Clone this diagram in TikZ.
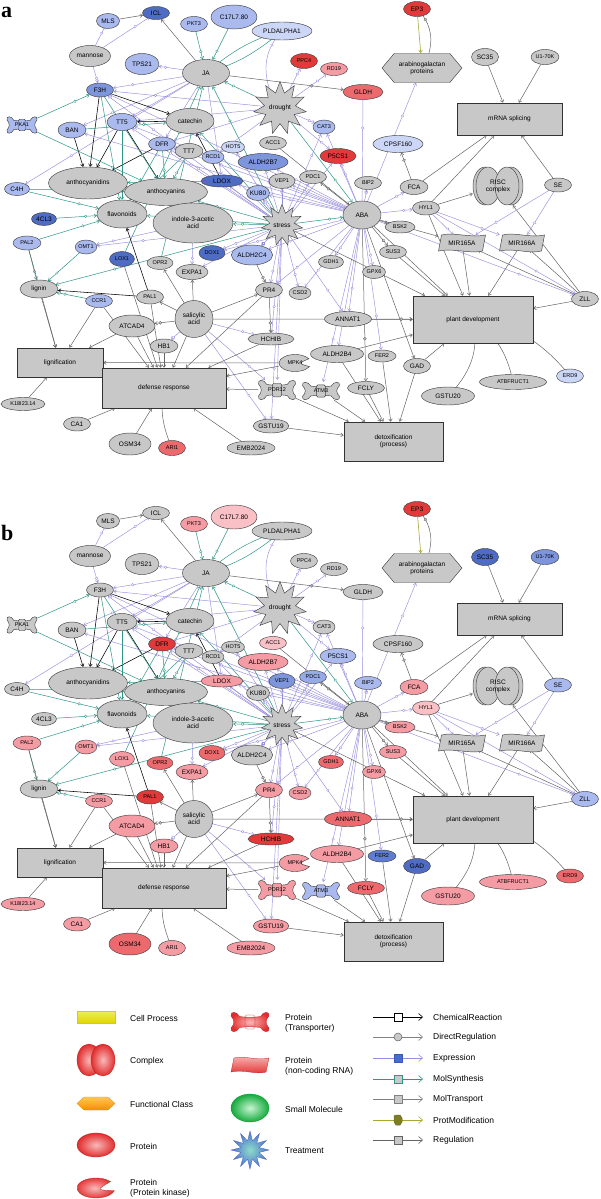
\documentclass[tikz,border=0pt]{standalone}
\usepackage{fontspec}
\setmainfont{Liberation Sans}
\newfontfamily\lblfont{Liberation Serif}
\usetikzlibrary{shapes.geometric,shapes.symbols,arrows.meta,decorations.markings,calc}
\pgfdeclarelayer{paper}
\pgfdeclarelayer{bg}
\pgfsetlayers{paper,bg,main}
\definecolor{gry}{RGB}{200,200,200}
\definecolor{vlb}{RGB}{204,214,246}
\definecolor{lb}{RGB}{170,186,238}
\definecolor{lmb}{RGB}{150,170,232}
\definecolor{mb}{RGB}{125,149,220}
\definecolor{mdb}{RGB}{95,125,210}
\definecolor{db}{RGB}{79,108,196}
\definecolor{rd}{RGB}{226,58,58}
\definecolor{rp}{RGB}{236,106,110}
\definecolor{pk}{RGB}{245,155,163}
\definecolor{lpk}{RGB}{249,192,198}
\definecolor{cex}{RGB}{152,142,222}
\definecolor{cms}{RGB}{45,150,135}
\definecolor{crg}{RGB}{100,100,100}
\definecolor{cpm}{RGB}{168,168,50}
\definecolor{legred}{RGB}{225,45,45}
\definecolor{legpink}{RGB}{250,185,185}
\tikzset{
  nE/.style args={#1/#2}{ellipse, draw=black!75, line width=0.45pt, minimum width=#1pt, minimum height=#2pt, inner sep=0pt, align=center},
  fs/.style={font=\fontsize{5.5}{6}\selectfont},
  fm/.style={font=\fontsize{6.5}{7}\selectfont},
  lg/.style={font=\fontsize{8.5}{10}\selectfont, anchor=west, align=left, inner sep=0pt},
  nBox/.style args={#1/#2}{rectangle, draw=black!80, fill=gry, line width=0.6pt, minimum width=#1pt, minimum height=#2pt, inner sep=0pt, align=center, font=\fontsize{6.5}{7.5}\selectfont},
  nStar/.style={star, star points=11, star point ratio=1.7, draw=black!75, inner sep=0pt, line width=0.45pt},
  mkr/.style={postaction={decorate, decoration={markings, mark=at position 0.72 with {\draw[draw=#1, fill=white, line width=0.35pt] (0,0) circle (1.3pt);}}}},
  mkg/.style={postaction={decorate, decoration={markings, mark=at position 0.72 with {\draw[draw=crg, fill=gry, line width=0.35pt] (0,0) circle (1.5pt);}}}},
  atip/.style={-{Straight Barb[length=2.5pt,width=3.6pt]}},
  ex/.style={draw=cex, line width=0.45pt, atip, mkr=cex},
  exb/.style={draw=cex, line width=0.45pt, -{Bar[width=4pt]}, mkr=cex},
  ms/.style={draw=cms, line width=0.5pt, atip, mkr=cms},
  rg/.style={draw=crg, line width=0.5pt, atip},
  rgb/.style={draw=crg, line width=0.5pt, -{Bar[width=4pt]}},
  dr/.style={draw=crg, line width=0.5pt, atip, mkg},
  ch/.style={draw=black, line width=0.55pt, atip},
  pm/.style={draw=cpm, line width=0.6pt, atip},
  lgline/.style={line width=0.6pt, -{Straight Barb[length=4pt,width=7pt]}},
}
\newcommand{\cl}[2]{\colorlet{k#1}{#2}}
% spool (transporter) outline, half sizes #1 #2, style #3
\newcommand{\spool}[3]{%
  \path[#3] ({-0.55*#1},{-0.55*#2}) .. controls ({-0.7*#1},{-1.1*#2}) and ({-1.05*#1},{-1.1*#2}) .. (-#1,{-0.6*#2})
   .. controls ({-0.8*#1},{-0.2*#2}) and ({-0.8*#1},{0.2*#2}) .. (-#1,{0.6*#2})
   .. controls ({-1.05*#1},{1.1*#2}) and ({-0.7*#1},{1.1*#2}) .. ({-0.55*#1},{0.55*#2})
   .. controls ({-0.2*#1},{0.45*#2}) and ({0.2*#1},{0.45*#2}) .. ({0.55*#1},{0.55*#2})
   .. controls ({0.7*#1},{1.1*#2}) and ({1.05*#1},{1.1*#2}) .. (#1,{0.6*#2})
   .. controls ({0.8*#1},{0.2*#2}) and ({0.8*#1},{-0.2*#2}) .. (#1,{-0.6*#2})
   .. controls ({1.05*#1},{-1.1*#2}) and ({0.7*#1},{-1.1*#2}) .. ({0.55*#1},{-0.55*#2})
   .. controls ({0.2*#1},{-0.45*#2}) and ({-0.2*#1},{-0.45*#2}) .. cycle;
}
\newcommand{\transp}[6]{%
  \begin{scope}[shift={(#2,#3)}]
    \spool{#4}{#5}{fill=k#1, draw=black!75, line width=0.45pt}
    \draw[black!75, line width=0.4pt, rounded corners=1.5pt, fill=k#1] ({-0.25*#4},{-0.68*#5}) rectangle ({0.25*#4},{0.68*#5});
  \end{scope}
  \node[fs, inner sep=0pt, minimum width=2*#4pt, minimum height=2*#5pt] (#1) at (#2,#3) {#6};
}
\newcommand{\kinase}[6]{%
  \begin{scope}[shift={(#2,#3)}]
    \filldraw[fill=k#1, draw=black!75, line width=0.45pt] (25:#4 and #5) arc[start angle=25, end angle=330, x radius=#4, y radius=#5] .. controls ({0.2*#4},{0.05*#5}) .. cycle;
  \end{scope}
  \node[fs, inner sep=0pt, minimum width=2*#4pt, minimum height=2*#5pt] (#1) at (#2,#3) {#6};
}
\newcommand{\ncrna}[6]{%
  \begin{scope}[shift={(#2,#3)}]
    \filldraw[fill=k#1, draw=black!75, line width=0.45pt] ({-#4+3},-#5) .. controls ({-0.3*#4},{-1.4*#5}) and ({0.3*#4},{-0.6*#5}) .. (#4,-#5) -- ({#4-3},#5) .. controls ({0.3*#4},{1.4*#5}) and ({-0.3*#4},{0.6*#5}) .. (-#4,#5) -- cycle;
  \end{scope}
  \node[fm, inner sep=0pt, minimum width=2*#4pt, minimum height=2*#5pt] (#1) at (#2,#3) {#6};
}
\newcommand{\allgrey}{%
\cl{MLS}{gry}\cl{ICL}{gry}\cl{PKT3}{gry}\cl{C17}{gry}\cl{PLD}{gry}\cl{mannose}{gry}\cl{TPS21}{gry}\cl{JA}{gry}\cl{F3H}{gry}\cl{PKA1}{gry}\cl{BAN}{gry}\cl{TT5}{gry}\cl{catechin}{gry}\cl{drought}{gry}\cl{DFR}{gry}\cl{TT7}{gry}\cl{HOT5}{gry}\cl{ACC1}{gry}\cl{RCD1}{gry}\cl{ALDH2B7}{gry}\cl{ACN}{gry}\cl{ACY}{gry}\cl{LDOX}{gry}\cl{VEP1}{gry}\cl{KU80}{gry}\cl{C4H}{gry}\cl{CL4}{gry}\cl{flav}{gry}\cl{IAA}{gry}\cl{stress}{gry}\cl{PAL2}{gry}\cl{OMT1}{gry}\cl{LOX1}{gry}\cl{OPR2}{gry}\cl{DOX1}{gry}\cl{ALDH2C4}{gry}\cl{EXPA1}{gry}\cl{lignin}{gry}\cl{CCR1}{gry}\cl{PAL1}{gry}\cl{SA}{gry}\cl{PR4}{gry}\cl{ATCAD4}{gry}\cl{HB1}{gry}\cl{HCHIB}{gry}\cl{MPK4}{gry}\cl{PDR12}{gry}\cl{K18}{gry}\cl{CA1}{gry}\cl{OSM34}{gry}\cl{ARI1}{gry}\cl{EMB}{gry}\cl{GSTU19}{gry}\cl{ATM3}{gry}\cl{EP3}{gry}\cl{ARA}{gry}\cl{SC35}{gry}\cl{U170K}{gry}\cl{PPC4}{gry}\cl{RD19}{gry}\cl{GLDH}{gry}\cl{CAT3}{gry}\cl{CPSF}{gry}\cl{P5CS1}{gry}\cl{PDC1}{gry}\cl{BIP2}{gry}\cl{FCA}{gry}\cl{RISC}{gry}\cl{SE}{gry}\cl{HYL1}{gry}\cl{ABA}{gry}\cl{BSK2}{gry}\cl{MIR5}{gry}\cl{MIR6}{gry}\cl{SUS3}{gry}\cl{GDH1}{gry}\cl{GPX6}{gry}\cl{ZLL}{gry}\cl{CSD2}{gry}\cl{ANNAT1}{gry}\cl{ALDH2B4}{gry}\cl{FER2}{gry}\cl{GAD}{gry}\cl{ERD9}{gry}\cl{ATBF}{gry}\cl{FCLY}{gry}\cl{GSTU20}{gry}}
\newcommand{\drawnet}{%
% ---------------- nodes
\node[nE=23/15, fill=kMLS, fm] (MLS) at (108,21) {MLS};
\node[nE=27/13, fill=kICL, fm] (ICL) at (156,13) {ICL};
\node[nE=27/15, fill=kPKT3, fs] (PKT3) at (194,24) {PKT3};
\node[nE=46/24, fill=kC17, fm] (C17) at (234,17) {C17L7.80};
\node[nE=60/18, fill=kPLD, fm] (PLD) at (282,31) {PLDALPHA1};
\node[nE=41/21, fill=kmannose, fm] (mannose) at (90,56) {mannose};
\node[nE=34/21, fill=kTPS21, fm] (TPS21) at (142,64) {TPS21};
\node[nE=47/27, fill=kJA, fm] (JA) at (206,73) {JA};
\node[nE=27/14, fill=kF3H, fm] (F3H) at (100,90) {F3H};
\transp{PKA1}{22}{125}{15}{8.5}{PKA1}
\node[nE=28/16, fill=kBAN, fm] (BAN) at (72,130) {BAN};
\node[nE=30/17, fill=kTT5, fm] (TT5) at (122,122) {TT5};
\node[nE=48/25, fill=kcatechin, fm] (catechin) at (190,121) {catechin};
\node[nStar, fill=kdrought, minimum size=38pt, fm] (drought) at (280,108) {drought};
\node[nE=27/14, fill=kDFR, fm] (DFR) at (162,144) {DFR};
\node[nE=28/15, fill=kTT7, fm] (TT7) at (189,151) {TT7};
\node[nE=23/12, fill=kHOT5, fs] (HOT5) at (233,147) {HOT5};
\node[nE=27/13, fill=kACC1, fs] (ACC1) at (273,143) {ACC1};
\node[nE=22/13, fill=kRCD1, fs] (RCD1) at (213,157) {RCD1};
\node[nE=50/17, fill=kALDH2B7, fm] (ALDH2B7) at (263,162) {ALDH2B7};
\node[nE=79/32, fill=kACN, fm] (ACN) at (88,183) {anthocyanidins};
\node[nE=83/27, fill=kACY, fm] (ACY) at (166,192) {anthocyanins};
\node[nE=42/12, fill=kLDOX, fm] (LDOX) at (222,181) {LDOX};
\node[nE=26/15, fill=kVEP1, fs] (VEP1) at (282,181) {VEP1};
\node[nE=23/15, fill=kKU80, fm] (KU80) at (258,193) {KU80};
\node[nE=25/13, fill=kC4H, fm] (C4H) at (17,189) {C4H};
\node[nE=25/13, fill=kCL4, fm] (CL4) at (44,219) {4CL3};
\node[nE=50/28, fill=kflav, fm] (flav) at (122,214) {flavonoids};
\node[nE=80/40, fill=kIAA, fm] (IAA) at (193,223) {indole-3-acetic\\acid};
\node[nStar, fill=kstress, minimum size=35pt, fm] (stress) at (282,225) {stress};
\node[nE=28/14, fill=kPAL2, fs] (PAL2) at (27,243) {PAL2};
\node[nE=21/14, fill=kOMT1, fs] (OMT1) at (86,247) {OMT1};
\node[nE=25/15, fill=kLOX1, fs] (LOX1) at (122,259) {LOX1};
\node[nE=26/13, fill=kOPR2, fs] (OPR2) at (160,263) {OPR2};
\node[nE=26/15, fill=kDOX1, fs] (DOX1) at (212,253) {DOX1};
\node[nE=41/20, fill=kALDH2C4, fm] (ALDH2C4) at (252,255) {ALDH2C4};
\node[nE=32/15, fill=kEXPA1, fm] (EXPA1) at (192,272) {EXPA1};
\node[nE=38/18, fill=klignin, fm] (lignin) at (39,289) {lignin};
\node[nE=27/13, fill=kCCR1, fs] (CCR1) at (99,301) {CCR1};
\node[nE=27/14, fill=kPAL1, fs] (PAL1) at (150,297) {PAL1};
\node[nE=38/37, fill=kSA, fm] (SA) at (194,319) {salicylic\\acid};
\node[nE=27/15, fill=kPR4, fm] (PR4) at (269,290) {PR4};
\node[nE=46/22, fill=kATCAD4, fm] (ATCAD4) at (132,326) {ATCAD4};
\node[nE=28/14, fill=kHB1, fm] (HB1) at (164,346) {HB1};
\node[nE=46/12, fill=kHCHIB, fm] (HCHIB) at (271,339) {HCHIB};
\node[nBox=86/29] (LIGF) at (60,362.5) {lignification};
\node[nBox=124/40] (DR) at (164,388) {defense response};
\kinase{MPK4}{295}{363}{16}{8.5}{MPK4}
\transp{PDR12}{277}{390}{18.5}{10}{PDR12}
\node[nE=44/13, fill=kK18, fs] (K18) at (23,404) {K18I23.14};
\node[nE=27/14, fill=kCA1, fm] (CA1) at (77,424) {CA1};
\node[nE=42/22, fill=kOSM34, fm] (OSM34) at (130,444) {OSM34};
\node[nE=27/15, fill=kARI1, fs] (ARI1) at (172,448) {ARI1};
\node[nE=48/14, fill=kEMB, fm] (EMB) at (251,448) {EMB2024};
\node[nE=35/14, fill=kGSTU19, fm] (GSTU19) at (271,426) {GSTU19};
\transp{ATM3}{321}{391}{18.5}{9}{ATM3}
\node[nE=27/15, fill=kEP3, fm] (EP3) at (417,9) {EP3};
\node[signal, signal to=west and east, signal pointer angle=100, draw=black!75, fill=kARA, minimum width=80pt, minimum height=29pt, inner sep=0pt, fm, align=center, line width=0.45pt] (ARA) at (422,68) {arabinogalactan\\proteins};
\node[nE=27/17, fill=kSC35, fm] (SC35) at (485,57) {SC35};
\node[nE=28/15, fill=kU170K, fs] (U170K) at (545,57) {U1-70K};
\node[nE=27/15, fill=kPPC4, fs] (PPC4) at (304,61) {PPC4};
\node[nE=27/13, fill=kRD19, fs] (RD19) at (334,69) {RD19};
\node[nE=40/15, fill=kGLDH, fm] (GLDH) at (363,92) {GLDH};
\node[nBox=105/32] (MRNA) at (509.5,119) {mRNA splicing};
\node[nE=22/14, fill=kCAT3, fs] (CAT3) at (324,127) {CAT3};
\node[nE=50/17, fill=kCPSF, fm] (CPSF) at (398,144) {CPSF160};
\node[nE=36/15, fill=kP5CS1, fm] (P5CS1) at (338,156) {P5CS1};
\node[nE=27/13, fill=kPDC1, fs] (PDC1) at (313,177) {PDC1};
\node[nE=27/13, fill=kBIP2, fs] (BIP2) at (368,183) {BIP2};
\node[nE=28/15, fill=kFCA, fm] (FCA) at (414,187) {FCA};
\begin{scope}[shift={(498,186)}]
  \filldraw[fill=kRISC, draw=black!75, line width=0.45pt] (-13,0) ellipse (12 and 19);
  \filldraw[fill=kRISC, draw=black!75, line width=0.45pt] (-10,0) ellipse (12 and 19);
  \filldraw[fill=kRISC, draw=black!75, line width=0.45pt] (13,0) ellipse (12 and 19);
  \filldraw[fill=kRISC, draw=black!75, line width=0.45pt] (9,0) ellipse (12 and 19);
\end{scope}
\node[fm, align=center, inner sep=0pt, minimum width=50pt, minimum height=38pt] (RISC) at (498,186) {RISC\\complex};
\node[nE=27/14, fill=kSE, fm] (SE) at (558,185) {SE};
\node[nE=27/14, fill=kHYL1, fs] (HYL1) at (426,208) {HYL1};
\node[nE=38/28, fill=kABA, fm] (ABA) at (362,215) {ABA};
\node[nE=30/12, fill=kBSK2, fs] (BSK2) at (400,227) {BSK2};
\ncrna{MIR5}{462}{243}{23.5}{8}{MIR165A}
\ncrna{MIR6}{522}{243}{22.5}{8}{MIR166A}
\node[nE=27/13, fill=kSUS3, fs] (SUS3) at (393,252) {SUS3};
\node[nE=25/13, fill=kGDH1, fs] (GDH1) at (331,262) {GDH1};
\node[nE=23/13, fill=kGPX6, fs] (GPX6) at (374,272) {GPX6};
\node[nE=27/15, fill=kZLL, fm] (ZLL) at (585,299) {ZLL};
\node[nE=22/13, fill=kCSD2, fs] (CSD2) at (300,293) {CSD2};
\node[nE=47/15, fill=kANNAT1, fm] (ANNAT1) at (348,319) {ANNAT1};
\node[nBox=120/47] (PD) at (473,319.5) {plant development};
\node[nE=53/17, fill=kALDH2B4, fm] (ALDH2B4) at (337,354) {ALDH2B4};
\node[nE=28/12, fill=kFER2, fs] (FER2) at (382,356) {FER2};
\node[nE=27/15, fill=kGAD, fm] (GAD) at (417,366) {GAD};
\node[nE=27/14, fill=kERD9, fs] (ERD9) at (570,376) {ERD9};
\node[nE=67/15, fill=kATBF, fs] (ATBF) at (513,382) {ATBFRUCT1};
\node[nE=37/13, fill=kFCLY, fm] (FCLY) at (366,388) {FCLY};
\node[nE=53/18, fill=kGSTU20, fm] (GSTU20) at (448,396) {GSTU20};
\node[nBox=99/39] (DETOX) at (393.5,441.5) {detoxification\\(process)};
% ---------------- edges
\begin{pgfonlayer}{bg}
\draw[rg] (MLS) -- (ICL);
\draw[exb] (mannose) -- (MLS);
\draw[exb] (mannose) -- (ICL);
\draw[ex] (mannose) -- (F3H);
\draw[rg] (JA) -- (ICL);
\draw[ms] (PKT3) -- (JA);
\draw[ms] (C17) -- (JA);
\draw[ms] (PLD) to[bend left=10] (JA);
\draw[ms] (JA) to[bend left=10] (PLD);
\draw[ex] (drought) to[bend left=30] (PLD);
\draw[ex] (JA) -- (TPS21);
\draw[dr] (JA) -- (GLDH);
\draw[ex] (JA) -- (F3H);
\draw[ex] (drought) -- (F3H);
\draw[ex] (stress) -- (F3H);
\draw[ex] (JA) -- (BAN);
\draw[ex] (JA) -- (TT5);
\draw[ex] (JA) -- (DFR);
\draw[ex] (JA) -- (C4H);
\draw[ex] (JA) -- (LDOX);
\draw[ms] (drought) -- (JA);
\draw[ms] (stress) -- (JA);
\draw[ms] (LOX1) -- (JA);
\draw[ms] (OPR2) -- (JA);
\draw[ex] (drought) -- (PPC4);
\draw[ex] (drought) -- (RD19);
\draw[ex] (drought) -- (CAT3);
\draw[ex] (drought) -- (P5CS1);
\draw[ex] (drought) -- (RCD1);
\draw[ex] (drought) -- (TT5);
\draw[ex] (drought) -- (DFR);
\draw[ch] (F3H) -- (catechin);
\draw[ch] (F3H) -- (ACN);
\draw[ch] (BAN) -- (ACN);
\draw[ch] (TT5) -- (ACN);
\draw[ch] (TT5) -- (ACY);
\draw[ch] (DFR) -- (ACN);
\draw[ch] (catechin) -- (TT5);
\draw[ch] (LDOX) -- (catechin);
\draw[ch] (PAL1) -- (flav);
\draw[ch] (PAL1) -- (lignin);
\draw[ms] (PKA1) -- (F3H);
\draw[ms] (PKA1) -- (ACY);
\draw[ms] (BAN) -- (catechin);
\draw[ms] (F3H) -- (ACY);
\draw[ms] (F3H) -- (flav);
\draw[ms] (TT5) -- (flav);
\draw[ms] (DFR) -- (ACY);
\draw[ms] (DFR) -- (flav);
\draw[ms] (LDOX) -- (ACN);
\draw[ms] (TT7) -- (ACY);
\draw[ms] (TT7) -- (flav);
\draw[ms] (C4H) -- (flav);
\draw[ms] (C4H) -- (ACY);
\draw[ms] (CL4) -- (flav);
\draw[ms] (PAL2) -- (flav);
\draw[ms] (PAL2) -- (lignin);
\draw[ms] (OMT1) -- (lignin);
\draw[ms] (CCR1) -- (lignin);
\draw[ms] (stress) -- (lignin);
\draw[ms] (stress) -- (IAA);
\draw[ms] (stress) -- (ACY);
\draw[ms] (stress) -- (flav);
\draw[ms] (stress) -- (ABA);
\draw[ms] (drought) -- (ABA);
\draw[ms] (stress) -- (catechin);
\draw[ex] (stress) -- (ALDH2B7);
\draw[ex] (stress) -- (KU80);
\draw[ex] (stress) -- (VEP1);
\draw[ex] (stress) -- (LDOX);
\draw[ex] (stress) -- (DOX1);
\draw[ex] (stress) -- (ALDH2C4);
\draw[ex] (stress) -- (EXPA1);
\draw[ex] (stress) -- (PR4);
\draw[ex] (stress) -- (CSD2);
\draw[ex] (stress) -- (OMT1);
\draw[ex] (stress) -- (DFR);
\draw[ex] (stress) -- (TT5);
\draw[ex] (stress) -- (PDC1);
\draw[ex] (stress) -- (HCHIB);
\draw[ex] (stress) -- (PDR12);
\draw[ex] (stress) -- (ANNAT1);
\draw[ex] (stress) -- (CAT3);
\draw[ex] (stress) -- (P5CS1);
\draw[ex] (stress) -- (RCD1);
\draw[ex] (stress) -- (HOT5);
\draw[ex] (stress) -- (GSTU19);
\draw[ex] (ABA) -- (P5CS1);
\draw[ex] (ABA) -- (CAT3);
\draw[ex] (ABA) -- (BIP2);
\draw[ex] (ABA) -- (FCA);
\draw[ex] (ABA) -- (ARA);
\draw[exb] (ABA) -- (GLDH);
\draw[ex] (ABA) -- (HYL1);
\draw[ex] (ABA) -- (GPX6);
\draw[ex] (ABA) -- (GDH1);
\draw[ex] (ABA) -- (ANNAT1);
\draw[ex] (ABA) -- (FER2);
\draw[ex] (ABA) -- (ALDH2B4);
\draw[ex] (ABA) -- (ATM3);
\draw[ex] (ABA) -- (CSD2);
\draw[ex] (ABA) -- (PR4);
\draw[ex] (ABA) -- (KU80);
\draw[ex] (ABA) -- (ALDH2B7);
\draw[ex] (ABA) -- (LDOX);
\draw[ex] (ABA) -- (ZLL);
\draw[ex] (ABA) -- (DOX1);
\draw[ex] (ABA) -- (ALDH2C4);
\draw[ex] (ABA) -- (VEP1);
\draw[ex] (ABA) -- (F3H);
\draw[ex] (ABA) -- (BAN);
\draw[ex] (ABA) -- (TT5);
\draw[ex] (ABA) -- (DFR);
\draw[dr] (ABA) -- (PDC1);
\draw[rg] (ABA) -- (BSK2);
\draw[dr] (ABA) -- (SUS3);
\draw[rg] (ABA) -- (GAD);
\draw[rg] (ABA) -- (PD);
\draw[rg] (ABA) -- (MIR5);
\draw[dr] (ABA) -- (FCLY);
\draw[rg] (ACC1) -- (ABA);
\draw[ex] (IAA) -- (EXPA1);
\draw[ex] (IAA) -- (OMT1);
\draw[dr] (ALDH2C4) -- (PR4);
\draw[rg] (SA) -- (PR4);
\draw[ex] (SA) -- (HCHIB);
\draw[rg] (SA) -- (DR);
\draw[ex] (SA) -- (PDR12);
\draw[ex] (SA) -- (GSTU19);
\draw[dr] (SA) -- (ATCAD4);
\draw[rg] (SA) -- (PAL1);
\draw[rg] (SA) -- (EXPA1);
\draw[rg] (SA) -- (OPR2);
\draw[ex] (SA) -- (HB1);
\draw[rg] (SA) -- (PD);
\draw[dr] (PR4) -- (HCHIB);
\draw[rg] (PR4) -- (DR);
\draw[rg] (HCHIB) -- (DR);
\draw[rg] (HB1) -- (DR);
\draw[rg] (ATCAD4) -- (LIGF);
\draw[rg] (ATCAD4) -- (DR);
\draw[rg] (lignin) -- (LIGF);
\draw[rg] (CCR1) -- (LIGF);
\draw[rg] (CCR1) -- (DR);
\draw[rg] (PAL2) -- (LIGF);
\draw[rg] (LOX1) -- (DR);
\draw[rg] (PAL1) -- (DR);
\draw[rg] (K18) -- (LIGF);
\draw[rg] (CA1) -- (DR);
\draw[rg] (OSM34) -- (DR);
\draw[rg] (ARI1) to[bend left=15] (DR);
\draw[rg] (EMB) -- (DR);
\draw[rg] (MPK4) -- (DR);
\draw[rg] (MPK4) -- (LIGF);
\draw[rg] (PDR12) -- (DR);
\draw[rg] (GSTU19) -- (DETOX);
\draw[rg] (ATM3) -- (DETOX);
\draw[rg] (PDR12) -- (DETOX);
\draw[rg] (ALDH2B4) -- (DETOX);
\draw[rg] (FCLY) -- (DETOX);
\draw[rg] (FER2) -- (DETOX);
\draw[rg] (GAD) -- (DETOX);
\draw[rg] (ALDH2B4) -- (PD);
\draw[rg] (GAD) -- (PD);
\draw[rg] (GSTU20) to[bend right=25] (PD);
\draw[rg] (ATBF) to[bend right=20] (PD);
\draw[rg] (ERD9) to[bend right=20] (PD);
\draw[dr] (ANNAT1) -- (PD);
\draw[rg] (stress) -- (PD);
\draw[rg] (SUS3) -- (PD);
\draw[rg] (HYL1) -- (PD);
\draw[rg] (MIR5) -- (PD);
\draw[rg] (MIR6) -- (PD);
\draw[rg] (ZLL) -- (PD);
\draw[rgb] (ZLL) -- (MIR5);
\draw[rgb] (ZLL) -- (MIR6);
\draw[rg] (ZLL) -- (RISC);
\draw[ex] (HYL1) -- (MIR5);
\draw[ex] (HYL1) -- (MIR6);
\draw[ex] (HYL1) -- (ZLL);
\draw[ex] (SE) -- (MIR5);
\draw[ex] (SE) -- (MIR6);
\draw[rg] (SE) -- (MRNA);
\draw[rg] (FCA) -- (MRNA);
\draw[rg] (HYL1) -- (MRNA);
\draw[rg] (SC35) -- (MRNA);
\draw[rg] (U170K) -- (MRNA);
\draw[rg] (HYL1) -- (RISC);
\draw[dr] (FCA) -- (CPSF);
\draw[pm] (EP3) -- (ARA);
\draw[dr] (ARA) to[bend right=30] (EP3);
\end{pgfonlayer}
}
\begin{document}
\begin{tikzpicture}[x=1pt,y=-1pt]
\useasboundingbox (0,0) rectangle (600,1199);
\begin{pgfonlayer}{paper}
\fill[white] (0,0) rectangle (600,1199);
\end{pgfonlayer}
% ---------------- panel a
\allgrey
\cl{MLS}{lb}\cl{ICL}{db}\cl{PKT3}{lb}\cl{C17}{lb}\cl{PLD}{vlb}\cl{TPS21}{lb}\cl{F3H}{mb}\cl{PKA1}{lb}\cl{BAN}{lb}\cl{TT5}{lb}\cl{DFR}{lb}\cl{HOT5}{vlb}\cl{RCD1}{lb}\cl{ALDH2B7}{mb}\cl{LDOX}{db}\cl{KU80}{lb}\cl{C4H}{lb}\cl{CL4}{db}\cl{PAL2}{lb}\cl{OMT1}{lb}\cl{LOX1}{db}\cl{DOX1}{db}\cl{ALDH2C4}{lb}\cl{CCR1}{lb}\cl{ARI1}{rp}\cl{EP3}{rd}\cl{PPC4}{rd}\cl{RD19}{pk}\cl{GLDH}{rp}\cl{CAT3}{lb}\cl{CPSF}{vlb}\cl{P5CS1}{rd}\cl{ERD9}{vlb}
\begin{scope}[name prefix=a-]
\drawnet
\node[anchor=base west, inner sep=0pt, font=\lblfont\bfseries\fontsize{22}{22}\selectfont] (lbla) at (1,18) {a};
\end{scope}
% ---------------- panel b
\allgrey
\cl{PKT3}{pk}\cl{C17}{lpk}\cl{DFR}{rd}\cl{ACC1}{lpk}\cl{ALDH2B7}{pk}\cl{LDOX}{pk}\cl{VEP1}{mb}\cl{EP3}{rd}\cl{SC35}{db}\cl{U170K}{mb}\cl{P5CS1}{lb}\cl{PDC1}{lmb}\cl{BIP2}{lb}\cl{FCA}{pk}\cl{HYL1}{lpk}\cl{SE}{lb}\cl{PAL2}{pk}\cl{OMT1}{pk}\cl{LOX1}{pk}\cl{OPR2}{rp}\cl{DOX1}{rp}\cl{EXPA1}{pk}\cl{CCR1}{pk}\cl{PAL1}{rd}\cl{PR4}{pk}\cl{CSD2}{pk}\cl{ATCAD4}{pk}\cl{HB1}{pk}\cl{HCHIB}{rd}\cl{MPK4}{pk}\cl{PDR12}{pk}\cl{GSTU19}{pk}\cl{K18}{pk}\cl{CA1}{pk}\cl{OSM34}{rp}\cl{ARI1}{pk}\cl{EMB}{pk}\cl{GDH1}{rp}\cl{BSK2}{pk}\cl{SUS3}{pk}\cl{GPX6}{pk}\cl{ZLL}{lb}\cl{ANNAT1}{rp}\cl{ALDH2B4}{pk}\cl{FER2}{mdb}\cl{GAD}{db}\cl{ERD9}{rp}\cl{ATBF}{pk}\cl{GSTU20}{pk}\cl{FCLY}{rp}\cl{ATM3}{lb}
\begin{scope}[name prefix=b-, shift={(0,500)}]
\drawnet
\node[anchor=base west, inner sep=0pt, font=\lblfont\bfseries\fontsize{22}{22}\selectfont] (lblb) at (1,40) {b};
\end{scope}
% ---------------- legend
\shadedraw[top color={rgb,255:red,240;green,236;blue,90}, bottom color={rgb,255:red,222;green,214;blue,0}, draw={rgb,255:red,215;green,205;blue,0}] (77,1011) rectangle (115,1023);
\node[lg] (lCP) at (130,1018) {Cell Process};
\shadedraw[inner color=legpink, outer color=legred, draw=legred!80!black, line width=0.3pt] (89,1060) ellipse (12 and 16);
\shadedraw[inner color=legpink, outer color=legred, draw=legred!80!black, line width=0.3pt] (103,1060) ellipse (12 and 16);
\node[lg] (lCX) at (130,1061) {Complex};
\shadedraw[top color={rgb,255:red,255;green,200;blue,80}, bottom color={rgb,255:red,245;green,140;blue,0}, draw={rgb,255:red,240;green,140;blue,0}, line width=0.3pt] (77,1103.5) -- (84,1097) -- (108,1097) -- (115,1103.5) -- (108,1110) -- (84,1110) -- cycle;
\node[lg] (lFC) at (130,1104) {Functional Class};
\shadedraw[inner color=legpink, outer color=legred, draw=legred!80!black, line width=0.3pt] (96,1145) ellipse (19 and 12);
\node[lg] (lPR) at (130,1146) {Protein};
\begin{scope}[shift={(96,1188)}]
\shadedraw[inner color=legpink, outer color=legred, draw=legred!80!black, line width=0.3pt] (15:19 and 10) arc[start angle=15, end angle=320, x radius=19, y radius=10] .. controls (0,2) .. cycle;
\end{scope}
\node[lg] (lPK) at (130,1188.5) {Protein\\(Protein kinase)};
\begin{scope}[shift={(250,1022)}]
\spool{19}{10}{shade, inner color=legpink, outer color=legred, draw=legred!80!black, line width=0.3pt}
\draw[legred!70!black, line width=0.3pt, rounded corners=1.5pt] (-5,-7) rectangle (5,7);
\end{scope}
\node[lg] (lTP) at (285,1023.5) {Protein\\(Transporter)};
\begin{scope}[shift={(250,1065)}]
\shadedraw[top color=legpink, bottom color=legred, draw=legred!80!black, line width=0.3pt] (-16,-7) .. controls (-6,-10) and (6,-4) .. (19,-7) -- (16,7) .. controls (6,10) and (-6,4) .. (-19,7) -- cycle;
\end{scope}
\node[lg] (lNC) at (285,1066.5) {Protein\\(non-coding RNA)};
\shadedraw[inner color={rgb,255:red,200;green,245;blue,210}, outer color={rgb,255:red,20;green,170;blue,60}, draw={rgb,255:red,20;green,150;blue,50}, line width=0.3pt] (250,1108) ellipse (19 and 14);
\node[lg] (lSM) at (285,1109) {Small Molecule};
\node[star, star points=12, star point ratio=2, minimum size=38pt, inner sep=0pt, draw={rgb,255:red,70;green,100;blue,190}, line width=0.3pt, shading=radial, inner color={rgb,255:red,140;green,220;blue,200}, outer color={rgb,255:red,80;green,110;blue,210}] (lTRi) at (250,1150) {};
\node[lg] (lTR) at (285,1151) {Treatment};
\foreach \yy/\nm in {1017/1,1037/2,1058/3,1079/4,1099/5,1120/6,1140/7}{
  \coordinate (ls\nm) at (373,\yy);
  \coordinate (le\nm) at (423,\yy);
}
\draw[lgline, black] (ls1) -- (le1);
\filldraw[fill=white, draw=black, line width=0.5pt] (394,1013) rectangle (402,1021);
\node[lg] (lL1) at (433,1017) {ChemicalReaction};
\draw[lgline, crg!80] (ls2) -- (le2);
\filldraw[fill=gry, draw=crg, line width=0.5pt] (398,1037) circle (4);
\node[lg] (lL2) at (433,1037) {DirectRegulation};
\draw[lgline, cex] (ls3) -- (le3);
\filldraw[fill={rgb,255:red,70;green,110;blue,200}, draw={rgb,255:red,60;green,90;blue,180}, line width=0.5pt] (394,1054) rectangle (402,1062);
\node[lg] (lL3) at (433,1058) {Expression};
\draw[lgline, cms] (ls4) -- (le4);
\filldraw[fill=gry, draw=cms, line width=0.5pt] (394,1075) rectangle (402,1083);
\node[lg] (lL4) at (433,1079) {MolSynthesis};
\draw[lgline, gray] (ls5) -- (le5);
\filldraw[fill=gry, draw=gray, line width=0.5pt] (394,1095) rectangle (402,1103);
\node[lg] (lL5) at (433,1099) {MolTransport};
\draw[lgline, cpm] (ls6) -- (le6);
\filldraw[fill={rgb,255:red,125;green,125;blue,40}, draw={rgb,255:red,110;green,110;blue,30}, line width=0.5pt] (394,1116) -- (396,1115) -- (400,1115) -- (402,1118) -- (402,1122) -- (400,1125) -- (396,1125) -- (394,1122) -- cycle;
\node[lg] (lL6) at (433,1120) {ProtModification};
\draw[lgline, crg] (ls7) -- (le7);
\filldraw[fill=gry, draw=crg, line width=0.5pt] (394,1136) rectangle (402,1144);
\node[lg] (lL7) at (433,1140) {Regulation};
\end{tikzpicture}
\end{document}
